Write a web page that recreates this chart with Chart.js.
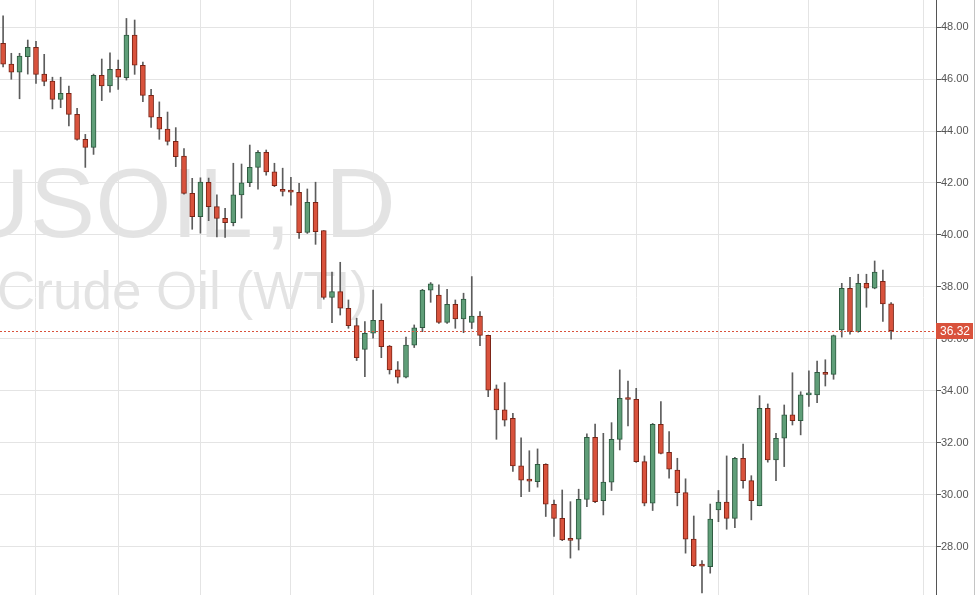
<!DOCTYPE html>
<html>
<head>
<meta charset="utf-8">
<script src="https://cdn.jsdelivr.net/npm/chart.js@4.4.1/dist/chart.umd.min.js"></script>
<style>
  html, body { margin: 0; padding: 0; background: #ffffff; }
  #wrap { width: 975px; height: 595px; position: relative; }
</style>
</head>
<body>
<div id="wrap"><canvas id="oilChart"></canvas></div>
<script>
// Daily candles
const opens = [47.37, 46.57, 46.26, 46.86, 47.22, 46.19, 45.92, 45.22, 45.45, 44.64,
  43.68, 43.37, 46.14, 45.73, 46.37, 46.05, 47.69, 46.53, 45.37, 44.53,
  44.07, 43.60, 43.04, 41.60, 40.70, 42.03, 41.09, 40.64, 40.47, 41.54,
  42.01, 42.60, 43.18, 42.43, 41.72, 41.69, 41.64, 40.10, 41.26, 40.17,
  37.60, 37.82, 37.18, 36.51, 35.60, 36.22, 36.72, 35.73, 34.81, 34.53,
  35.76, 36.43, 37.88, 37.69, 36.64, 37.33, 36.77, 36.64, 36.88, 36.14,
  34.08, 33.27, 32.95, 31.12, 30.56, 30.51, 31.18, 29.64, 29.10, 28.29,
  28.30, 29.83, 32.22, 29.78, 30.49, 32.14, 33.71, 33.68, 31.28, 29.68,
  32.72, 31.64, 30.96, 30.09, 28.30, 27.30, 27.24, 29.42, 29.72, 29.10,
  31.41, 30.55, 29.59, 33.33, 31.35, 32.18, 33.08, 32.86, 33.85, 33.85,
  34.72, 34.64, 36.35, 37.95, 36.28, 38.14, 37.95, 38.22, 37.35];
const highs = [48.43, 46.99, 46.99, 47.50, 47.45, 46.95, 46.07, 46.07, 45.73, 44.87,
  43.87, 46.19, 46.77, 47.01, 46.73, 48.33, 48.27, 46.65, 45.60, 45.12,
  44.73, 44.13, 43.32, 42.18, 42.20, 42.19, 41.54, 41.03, 42.76, 42.73,
  43.46, 43.25, 43.27, 42.76, 42.57, 42.22, 41.99, 41.77, 42.03, 40.17,
  38.57, 38.95, 37.50, 36.80, 36.67, 37.88, 37.35, 35.75, 35.13, 36.07,
  36.54, 37.91, 38.17, 38.08, 37.91, 37.50, 37.76, 38.40, 37.05, 36.15,
  34.23, 34.32, 33.14, 32.20, 31.70, 31.77, 31.20, 29.80, 30.19, 29.74,
  30.22, 32.35, 32.73, 32.37, 32.78, 34.81, 34.38, 34.10, 31.50, 32.75,
  33.59, 32.44, 31.41, 30.62, 29.19, 27.47, 29.65, 30.17, 31.50, 31.45,
  31.96, 30.74, 33.82, 33.50, 32.37, 33.46, 34.70, 33.97, 34.77, 35.15,
  35.20, 36.15, 38.14, 38.37, 38.49, 38.49, 39.00, 38.65, 37.40];
const lows = [46.47, 45.99, 45.24, 46.19, 45.83, 45.74, 44.85, 44.90, 44.20, 43.65,
  42.60, 43.10, 45.17, 45.49, 45.60, 45.96, 46.18, 45.13, 44.14, 43.68,
  43.46, 42.63, 41.57, 40.22, 40.07, 40.55, 39.93, 39.91, 40.35, 40.65,
  41.86, 41.76, 42.30, 41.86, 41.50, 41.15, 39.87, 40.06, 39.64, 37.53,
  36.63, 36.92, 36.41, 35.17, 34.55, 36.03, 35.28, 34.65, 34.30, 34.50,
  35.67, 36.28, 37.41, 36.60, 36.60, 36.41, 36.24, 36.40, 35.74, 33.78,
  32.14, 32.65, 30.90, 29.93, 30.13, 30.30, 29.17, 28.40, 28.24, 27.57,
  27.88, 29.55, 29.70, 29.23, 30.17, 31.73, 32.65, 31.25, 29.58, 29.40,
  31.58, 30.64, 29.58, 27.76, 27.24, 26.23, 26.99, 28.97, 28.68, 28.74,
  30.26, 29.04, 29.58, 31.26, 30.55, 31.09, 32.69, 32.31, 33.40, 33.55,
  34.19, 34.45, 36.07, 36.18, 36.26, 37.22, 37.93, 36.67, 35.99];
const closes = [46.57, 46.26, 46.88, 47.22, 46.18, 45.91, 45.22, 45.45, 44.64, 43.68,
  43.37, 46.14, 45.73, 46.37, 46.07, 47.69, 46.53, 45.37, 44.53, 44.07,
  43.60, 43.01, 41.60, 40.70, 42.04, 41.09, 40.64, 40.47, 41.54, 42.01,
  42.60, 43.18, 42.43, 41.90, 41.68, 41.65, 40.09, 41.26, 40.13, 37.60,
  37.82, 37.18, 36.51, 35.28, 36.22, 36.72, 35.70, 34.81, 34.53, 35.76,
  36.43, 37.88, 38.12, 36.64, 37.33, 36.77, 37.53, 36.88, 36.14, 34.03,
  33.27, 32.88, 31.12, 30.57, 30.53, 31.18, 29.64, 29.10, 28.27, 28.25,
  29.83, 32.22, 29.74, 30.49, 32.14, 33.72, 33.67, 31.28, 29.68, 32.72,
  31.60, 30.99, 30.09, 28.30, 27.28, 27.26, 29.07, 29.72, 29.10, 31.41,
  30.55, 29.78, 33.33, 31.35, 32.18, 33.08, 32.86, 33.85, 33.86, 34.72,
  34.64, 36.13, 37.95, 36.28, 38.14, 37.95, 38.57, 37.35, 36.32];

// candle positions where the vertical grid lines fall
const gridIdx = [4, 14, 24, 35, 45, 57, 67, 77, 87, 98, 112];

const lastPrice = closes[closes.length - 1];
const idx = closes.map((_, i) => i);
const isUp = i => closes[i] >= opens[i];

const UP_FILL = '#5f9e78', UP_LINE = '#2e5a40';
const DN_FILL = '#d9523c', DN_LINE = '#7a2416';

// big grey symbol text behind the candles
const watermark = {
    id: 'watermark',
    beforeDraw(chart) {
        const c = chart.ctx;
        c.save();
        c.fillStyle = 'rgba(0,0,0,0.11)';
        c.textBaseline = 'alphabetic';
        c.font = '98px "Liberation Sans", Arial, sans-serif';
        c.fillText('USOIL', -41, 237);
        c.fillText(',', 264, 237);
        c.fillText('D', 325, 237);
        c.font = '53px "Liberation Sans", Arial, sans-serif';
        c.fillText('Crude Oil (WTI)', -3, 309);
        c.restore();
    }
};

// dotted last-price line and its tag on the axis
const priceLine = {
    id: 'priceLine',
    afterDatasetsDraw(chart) {
        const c = chart.ctx;
        const area = chart.chartArea;
        const y = Math.round(chart.scales.y.getPixelForValue(lastPrice)) + 0.5;
        c.save();
        c.strokeStyle = DN_FILL;
        c.lineWidth = 1;
        c.setLineDash([2, 2]);
        c.beginPath();
        c.moveTo(area.left, y);
        c.lineTo(area.right, y);
        c.stroke();
        c.restore();
    },
    afterDraw(chart) {
        const c = chart.ctx;
        const area = chart.chartArea;
        const y = Math.round(chart.scales.y.getPixelForValue(lastPrice));
        c.save();
        c.fillStyle = DN_FILL;
        c.fillRect(area.right, y - 8, 37, 16);
        c.fillStyle = '#ffffff';
        c.font = '12px "Liberation Sans", Arial, sans-serif';
        c.textAlign = 'center';
        c.textBaseline = 'middle';
        c.fillText(lastPrice.toFixed(2), area.right + 19, y + 1);
        c.fillStyle = '#c4c4c4';
        c.fillRect(974, 0, 1, chart.height);
        c.restore();
    }
};

const ctx = document.getElementById('oilChart').getContext('2d');
new Chart(ctx, {
    type: 'bar',
    data: {
        datasets: [{
            label: 'body',
            data: idx.map(i => ({ x: i, y: [opens[i], closes[i]] })),
            backgroundColor: c => isUp(c.dataIndex) ? UP_FILL : DN_FILL,
            borderColor: c => isUp(c.dataIndex) ? UP_LINE : DN_LINE,
            borderWidth: 1,
            borderSkipped: false,
            barThickness: 5,
            minBarLength: 2,
            grouped: false,
            order: 0
        }, {
            label: 'wick',
            data: idx.map(i => ({ x: i, y: [lows[i], highs[i]] })),
            backgroundColor: '#5c5c5c',
            barThickness: 1,
            grouped: false,
            order: 1
        }]
    },
    options: {
        responsive: true,
        maintainAspectRatio: false,
        animation: false,
        layout: { padding: 0 },
        plugins: {
            legend: { display: false },
            tooltip: { enabled: false }
        },
        scales: {
            x: {
                type: 'linear',
                min: -0.377,
                max: 113.46,
                offset: false,
                grid: { color: '#e4e4e4', drawTicks: false, offset: false },
                border: { display: false },
                ticks: { display: false },
                afterBuildTicks: s => { s.ticks = gridIdx.map(v => ({ value: v })); },
                afterFit: s => { s.height = 0; }
            },
            y: {
                position: 'right',
                min: 26.15,
                max: 49.04,
                grid: { color: '#e4e4e4', tickLength: 5, tickColor: '#555' },
                border: { color: '#555' },
                ticks: {
                    stepSize: 2,
                    includeBounds: false,
                    padding: 0,
                    color: '#555',
                    font: { size: 11, lineHeight: 0.05, family: '"Liberation Sans", Arial, sans-serif' },
                    callback: v => v.toFixed(2)
                },
                afterFit: s => {
                    s.width = 39;
                    s.paddingTop = 0;
                    s.paddingBottom = 0;
                }
            }
        }
    },
    plugins: [watermark, priceLine]
});
</script>
</body>
</html>
